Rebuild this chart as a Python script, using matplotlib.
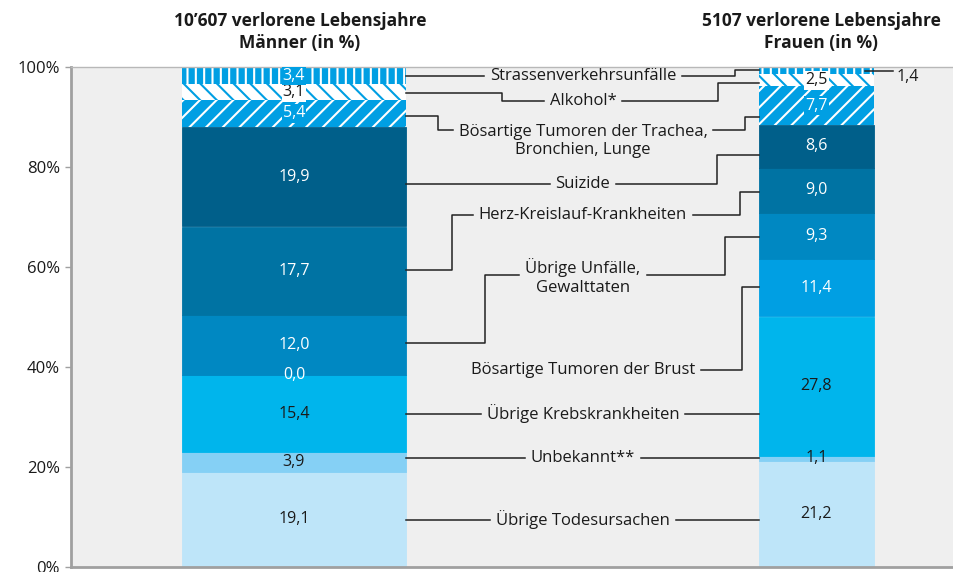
import matplotlib
matplotlib.use("Agg")
import matplotlib.pyplot as plt
import numpy as np

plt.rcParams["font.family"] = ["Open Sans", "DejaVu Sans"]
plt.rcParams["hatch.linewidth"] = 1.5

# ---- data (from bottom to top of the stack) ----
categories = [
    "Übrige Todesursachen",
    "Unbekannt**",
    "Übrige Krebskrankheiten",
    "Bösartige Tumoren der Brust",
    "Übrige Unfälle,\nGewalttaten",
    "Herz-Kreislauf-Krankheiten",
    "Suizide",
    "Bösartige Tumoren der Trachea,\nBronchien, Lunge",
    "Alkohol*",
    "Strassenverkehrsunfälle",
]
maenner = [19.1, 3.9, 15.4, 0.0, 12.0, 17.7, 19.9, 5.4, 3.1, 3.4]
frauen = [21.2, 1.1, 27.8, 11.4, 9.3, 9.0, 8.6, 7.7, 2.5, 1.4]
titel_maenner = "10’607 verlorene Lebensjahre\nMänner (in %)"
titel_frauen = "5107 verlorene Lebensjahre\nFrauen (in %)"
yticks = [0, 20, 40, 60, 80, 100]

# ---- styles ----
blau = "#009FE3"
farben = ["#BEE5F9", "#85D0F5", "#00B5EC", "#009FE3", "#0088C2",
          "#0073A3", "#005F8A", blau, "white", blau]
hatches = [None, None, None, None, None, None, None, "//", "\\\\", "||"]
hatch_farbe = [None] * 7 + ["white", blau, "white"]
text_farbe = ["#1a1a1a", "#1a1a1a", "#1a1a1a", "white", "white",
              "white", "white", "white", "#1a1a1a", "white"]
box_farbe = [None] * 7 + [blau, "white", blau]
fs = 12

# layout in pixel-like x units, y in percent
m_left, m_width = 182, 224
f_left, f_width = 759, 115
label_x = 583

# label y, connector y, men anchor y, men elbow x, women anchor y, women elbow x
verbinder = [
    (9.4, 9.4, 9.4, None, 9.4, None),
    (21.8, 21.8, 21.8, None, 21.8, None),
    (30.6, 30.6, 30.6, None, 30.6, None),
    (39.4, 39.4, None, None, 56.0, 742),
    (58.0, 58.4, 44.8, 485, 66.0, 725),
    (70.4, 70.4, 59.4, 452, 75.0, 740),
    (76.6, 76.6, 76.6, None, 82.4, 717),
    (85.2, 87.4, 90.2, 438, 90.0, 745),
    (93.2, 93.2, 94.8, 502, 96.8, 718),
    (98.2, 98.2, 98.2, None, 99.4, 735),
]

fig = plt.figure(figsize=(9.54, 5.72), dpi=100)
ax = fig.add_axes([71 / 954, 5 / 572, 883 / 954, 500 / 572])
ax.set_facecolor("#EFEFEF")
ax.set_xlim(71, 954)
ax.set_ylim(0, 100)

def stapel(left, width, werte):
    unten = np.concatenate([[0], np.cumsum(werte)[:-1]])
    for i, v in enumerate(werte):
        kw = dict(color=farben[i], edgecolor=farben[i], linewidth=0.6)
        if hatches[i]:
            kw = dict(facecolor=farben[i], edgecolor=hatch_farbe[i],
                      hatch=hatches[i], linewidth=0)
        ax.bar(left, v, width=width, bottom=unten[i], align="edge", **kw)
    return unten

def wert(v):
    return f"{v:.1f}".replace(".", ",")

u_m = stapel(m_left, m_width, maenner)
u_f = stapel(f_left, f_width, frauen)

for left, width, werte, unten in [(m_left, m_width, maenner, u_m),
                                  (f_left, f_width, frauen, u_f)]:
    cx = left + width / 2
    for i, v in enumerate(werte):
        if werte is frauen and i == 9:
            continue
        bb = None
        if box_farbe[i]:
            bb = dict(boxstyle="square,pad=0.08", facecolor=box_farbe[i], linewidth=0)
        ax.text(cx, unten[i] + v / 2, wert(v), ha="center", va="center",
                fontsize=fs - 0.5, color=text_farbe[i], bbox=bb)

# outside label for 1,4 (women)
ax.plot([865, 893], [99.2, 99.2], color="#222222", lw=1.1, clip_on=False)
ax.text(897, 98.0, wert(frauen[9]), ha="left", va="center", fontsize=fs - 0.5,
        color="#1a1a1a")

# middle labels with connectors
fig.canvas.draw()
renderer = fig.canvas.get_renderer()
inv = ax.transData.inverted()
pad = 6
lw = 1.1
lc = "#222222"
for i, name in enumerate(categories):
    ly, cy, my, mx, wy, wx = verbinder[i]
    t = ax.text(label_x, ly, name, ha="center", va="center", fontsize=fs,
                color="#1a1a1a", linespacing=1.2)
    bb = t.get_window_extent(renderer)
    (x0, _), (x1, _) = inv.transform([[bb.x0, bb.y0], [bb.x1, bb.y1]])
    if my is not None:
        if mx is None:
            ax.plot([m_left + m_width, x0 - pad], [cy, cy], color=lc, lw=lw)
        else:
            ax.plot([m_left + m_width, mx, mx, x0 - pad], [my, my, cy, cy],
                    color=lc, lw=lw)
    if wx is None:
        ax.plot([x1 + pad, f_left], [cy, cy], color=lc, lw=lw)
    else:
        ax.plot([x1 + pad, wx, wx, f_left], [cy, cy, wy, wy], color=lc, lw=lw)

# titles
ax.text(m_left + m_width / 2 + 6, 1.03, titel_maenner, transform=ax.get_xaxis_transform(),
        ha="center", va="bottom", fontsize=12.5, fontweight="bold", color="#1a1a1a",
        linespacing=1.3)
ax.text(f_left + f_width / 2 + 5, 1.03, titel_frauen, transform=ax.get_xaxis_transform(),
        ha="center", va="bottom", fontsize=12.5, fontweight="bold", color="#1a1a1a",
        linespacing=1.3)

# axes styling
ax.set_xticks([])
ax.set_yticks(yticks)
ax.set_yticklabels([f"{v}%" for v in yticks], fontsize=12, color="#1a1a1a")
ax.tick_params(axis="y", length=4, width=1, color="#A0A0A0", pad=4)
for s in ["left", "bottom"]:
    ax.spines[s].set_color("#A0A0A0")
    ax.spines[s].set_linewidth(2)
ax.spines["top"].set_color("#B8B8B8")
ax.spines["top"].set_linewidth(1)
ax.spines["right"].set_visible(False)

fig.savefig("out.png", dpi=100)
